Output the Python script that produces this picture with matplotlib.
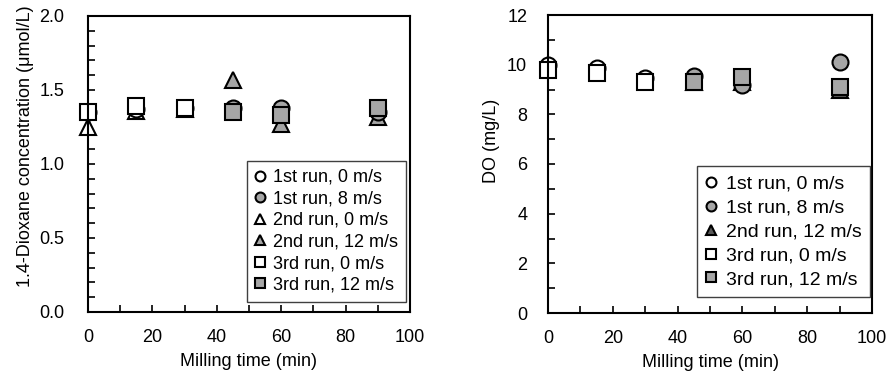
import matplotlib
matplotlib.use("Agg")
import matplotlib.pyplot as plt
from matplotlib.ticker import MultipleLocator, FormatStrFormatter

plt.rcParams['font.family'] = ['Liberation Sans', 'DejaVu Sans']
plt.rcParams['font.size'] = 13

# milling times (min)
t_low = [0, 15, 30]
t_high = [45, 60, 90]

# 1,4-dioxane concentration (umol/L)
diox_run1_0 = [1.35, 1.37, 1.38]
diox_run1_8 = [1.38, 1.38, 1.35]
diox_run2_0 = [1.25, 1.36, 1.37]
diox_run2_12 = [1.57, 1.27, 1.32]
diox_run3_0 = [1.35, 1.39, 1.38]
diox_run3_12 = [1.35, 1.33, 1.38]

# dissolved oxygen (mg/L)
do_run1_0 = [10.0, 9.85, 9.45]
do_run1_8 = [9.55, 9.2, 10.1]
do_run2_12 = [9.3, 9.3, 9.0]
do_run3_0 = [9.8, 9.65, 9.3]
do_run3_12 = [9.3, 9.5, 9.1]

GRAY = '#a6a6a6'
DARK = '#595959'
MS = 11.5
EW = 1.5


def pts(ax, x, y, marker, face, label):
    ax.plot(x, y, linestyle='none', marker=marker, markersize=MS,
            markerfacecolor=face, markeredgecolor='black',
            markeredgewidth=EW, label=label, clip_on=False)


def style(ax, ymax, ymajor, yminor, ylabel, ypad, lab_xy):
    ax.set_xlim(0, 100)
    ax.set_ylim(0, ymax)
    ax.xaxis.set_major_locator(MultipleLocator(20))
    ax.xaxis.set_minor_locator(MultipleLocator(10))
    ax.yaxis.set_major_locator(MultipleLocator(ymajor))
    ax.yaxis.set_minor_locator(MultipleLocator(yminor))
    ax.tick_params(which='both', direction='in', length=5, width=1.2,
                   top=False, right=False)
    ax.tick_params(axis='x', which='major', pad=12)
    ax.tick_params(axis='y', which='major', pad=ypad)
    for s in ax.spines.values():
        s.set_linewidth(1.5)
    ax.set_xlabel('Milling time (min)', labelpad=5)
    ax.set_ylabel(ylabel)
    ax.yaxis.set_label_coords(*lab_xy)


def legend(ax, order, size, spacing, anchor):
    h, l = ax.get_legend_handles_labels()
    lut = dict(zip(l, h))
    leg = ax.legend([lut[k] for k in order], order, loc='lower right',
                    bbox_to_anchor=anchor, fancybox=False,
                    edgecolor='#404040', handlelength=0.55,
                    handletextpad=0.45, labelspacing=spacing,
                    borderpad=0.45, borderaxespad=0, fontsize=size,
                    markerscale=0.62, framealpha=1)
    leg.get_frame().set_linewidth(1.0)


fig = plt.figure(figsize=(8.9, 3.72), dpi=100)
ax1 = fig.add_axes([88 / 890, 60 / 372, 322 / 890, 296 / 372])
ax2 = fig.add_axes([548 / 890, 59 / 372, 324 / 890, 298 / 372])

pts(ax1, t_low, diox_run2_0, '^', 'white', '2nd run, 0 m/s')
pts(ax1, t_low, diox_run1_0, 'o', 'white', '1st run, 0 m/s')
pts(ax1, t_low, diox_run3_0, 's', 'white', '3rd run, 0 m/s')
pts(ax1, t_high, diox_run2_12, '^', GRAY, '2nd run, 12 m/s')
pts(ax1, t_high, diox_run1_8, 'o', GRAY, '1st run, 8 m/s')
pts(ax1, t_high, diox_run3_12, 's', GRAY, '3rd run, 12 m/s')

pts(ax2, t_low, do_run1_0, 'o', 'white', '1st run, 0 m/s')
pts(ax2, t_low, do_run3_0, 's', 'white', '3rd run, 0 m/s')
pts(ax2, t_high, do_run2_12, '^', DARK, '2nd run, 12 m/s')
pts(ax2, t_high, do_run1_8, 'o', GRAY, '1st run, 8 m/s')
pts(ax2, t_high, do_run3_12, 's', GRAY, '3rd run, 12 m/s')

style(ax1, 2.0, 0.5, 0.1, '1.4-Dioxane concentration (μmol/L)', 17,
      (-0.168, 0.56))
style(ax2, 12, 2, 1, 'DO (mg/L)', 15, (-0.148, 0.577))
ax1.yaxis.set_major_formatter(FormatStrFormatter('%.1f'))

# legend order: run 1, run 2, run 3
legend(ax1, ['1st run, 0 m/s', '1st run, 8 m/s', '2nd run, 0 m/s',
             '2nd run, 12 m/s', '3rd run, 0 m/s', '3rd run, 12 m/s'],
       13, 0.25, (0.988, 0.035))
legend(ax2, ['1st run, 0 m/s', '1st run, 8 m/s', '2nd run, 12 m/s',
             '3rd run, 0 m/s', '3rd run, 12 m/s'],
       14, 0.32, (0.994, 0.054))

fig.savefig('out.png', dpi=100)
